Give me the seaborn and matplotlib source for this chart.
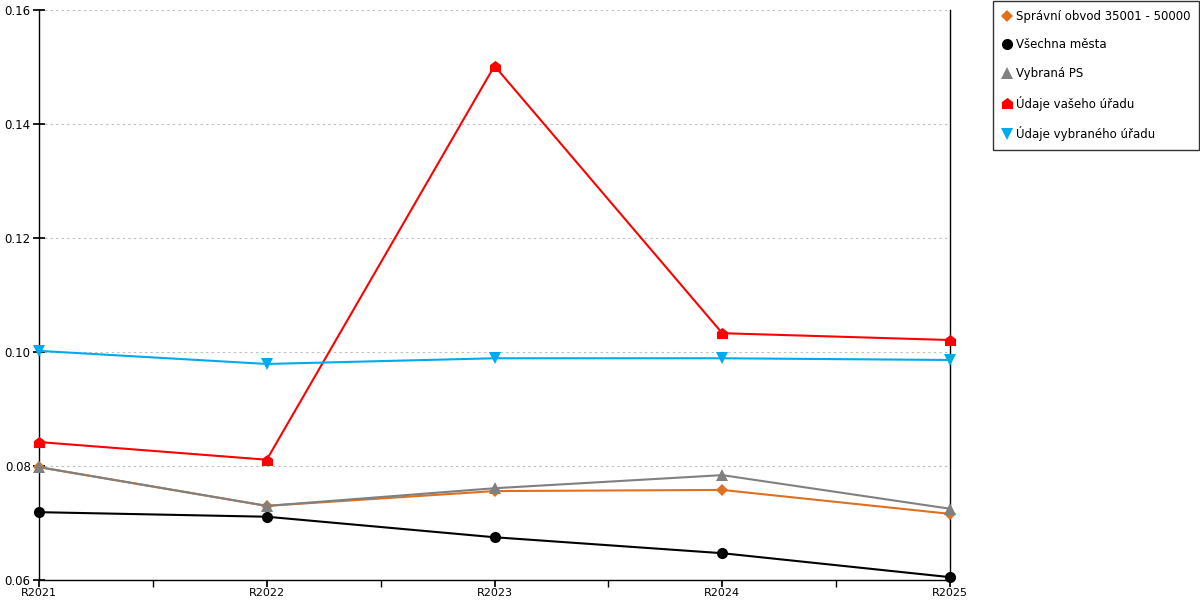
import matplotlib
matplotlib.use("Agg")
import matplotlib.pyplot as plt
import seaborn as sns
import pandas as pd
from matplotlib.ticker import MultipleLocator, FixedLocator
from matplotlib.path import Path

categories = ["R2021", "R2022", "R2023", "R2024", "R2025"]
spravni_obvod = [0.0798, 0.0730, 0.0756, 0.0758, 0.0716]
vsechna_mesta = [0.0719, 0.0711, 0.0675, 0.0647, 0.0605]
vybrana_ps = [0.0798, 0.0730, 0.0761, 0.0784, 0.0725]
udaje_vaseho = [0.0842, 0.0811, 0.1502, 0.1033, 0.1021]
udaje_vybraneho = [0.1002, 0.0979, 0.0989, 0.0989, 0.0986]

series_names = ["Správní obvod 35001 - 50000", "Všechna města", "Vybraná PS",
                "Údaje vašeho úřadu", "Údaje vybraného úřadu"]
series_values = [spravni_obvod, vsechna_mesta, vybrana_ps, udaje_vaseho, udaje_vybraneho]

house = Path([(-1, -1), (1, -1), (1, 0.25), (0, 1), (-1, 0.25), (-1, -1)],
             [Path.MOVETO, Path.LINETO, Path.LINETO, Path.LINETO, Path.LINETO, Path.CLOSEPOLY])

colors = ["#e07020", "#000000", "#808080", "#ff0000", "#00aaee"]
markers = ["D", "o", "^", house, "v"]
msizes = [6, 8, 8, 8, 8]

rows = []
for name, vals in zip(series_names, series_values):
    for i, (c, v) in enumerate(zip(categories, vals)):
        rows.append({"cat": c, "x": i, "value": v, "series": name})
df = pd.DataFrame(rows)

sns.set_theme(style="white")
plt.rcParams['font.family'] = ['DejaVu Sans']
plt.rcParams['text.color'] = 'black'
plt.rcParams['xtick.color'] = 'black'
plt.rcParams['ytick.color'] = 'black'

fig = plt.figure(figsize=(12, 6), dpi=100)
ax = fig.add_axes([39/1200, 20/600, (950-39)/1200, (580-10)/600])

for name, col, mk, ms in zip(series_names, colors, markers, msizes):
    sub = df[df["series"] == name]
    sns.lineplot(data=sub, x="x", y="value", ax=ax, color=col, marker=mk,
                 markersize=ms, markeredgewidth=0, linewidth=1.5, label=name,
                 clip_on=False, zorder=3)

ax.set_xlim(0, 4)
ax.set_ylim(0.06, 0.16)
ax.set_xticks(range(len(categories)))
ax.set_xticklabels(categories)
ax.xaxis.set_minor_locator(FixedLocator([0.5, 1.5, 2.5, 3.5]))
ax.yaxis.set_major_locator(MultipleLocator(0.02))
ax.set_yticklabels([f"{t:.2f}" for t in ax.get_yticks()])
ax.set_xlabel("")
ax.set_ylabel("")
ax.grid(axis="y", color="#bbbbbb", linestyle=(0, (2, 3)), linewidth=0.8)
ax.grid(axis="x", visible=False)
for s in ["left", "bottom", "right"]:
    ax.spines[s].set_color("black")
    ax.spines[s].set_linewidth(1)
ax.spines["top"].set_visible(False)
ax.tick_params(axis="x", which="major", direction="out", length=5, color="black",
               labelsize=8, bottom=True, pad=1, labelcolor="black")
ax.tick_params(axis="x", which="minor", direction="out", length=5, color="black", bottom=True)
ax.tick_params(axis="y", direction="inout", length=8, color="black", labelsize=8.5,
               left=True, pad=2, labelcolor="black")

leg = ax.legend(loc="upper right", bbox_to_anchor=(1199/1200, 1 - 1/600),
                bbox_transform=fig.transFigure, frameon=True, fancybox=False,
                edgecolor="black", fontsize=8.5, labelspacing=1.32,
                handlelength=0.8, handletextpad=0.35, borderpad=0.75,
                borderaxespad=0, labelcolor="black")
leg.get_frame().set_linewidth(1)
for h in leg.get_lines():
    h.set_linestyle("")

fig.savefig("out.png", dpi=100)
